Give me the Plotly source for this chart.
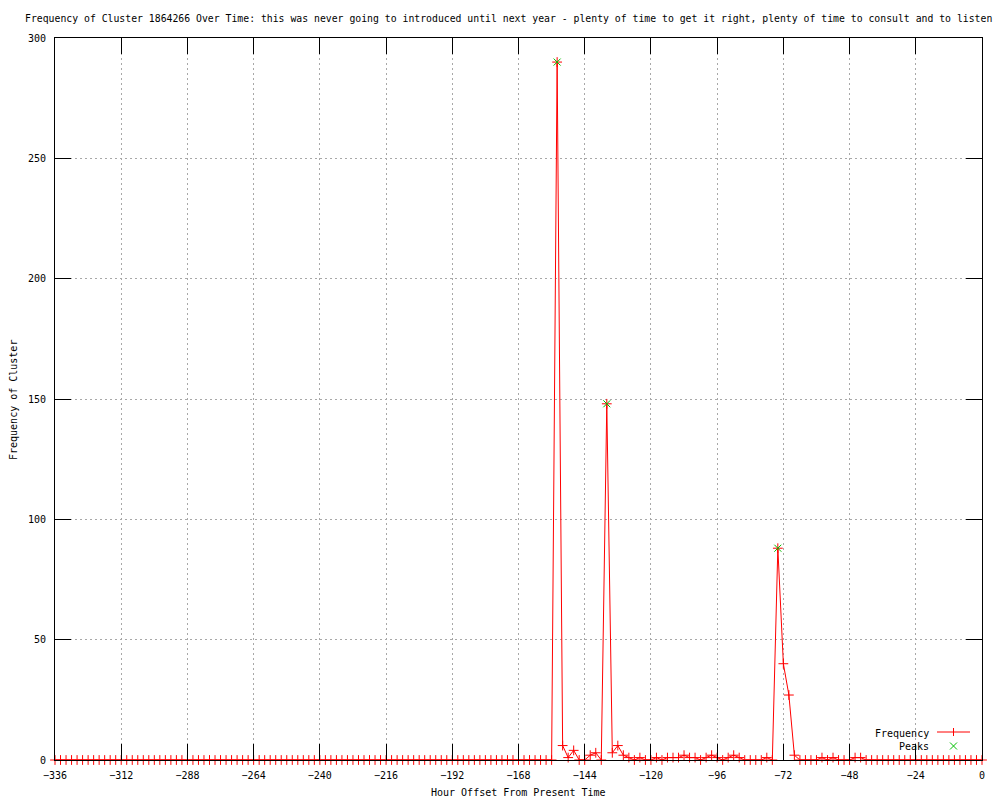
import plotly.graph_objects as go

# Hour offsets (every 2 hours from -336 to 0)
hours = list(range(-336, 1, 2))

# Frequency per 2-hour bin
frequency = [
    # -336 .. -158
    0, 0, 0, 0, 0, 0, 0, 0, 0, 0, 0, 0, 0, 0, 0, 0, 0, 0, 0, 0,
    0, 0, 0, 0, 0, 0, 0, 0, 0, 0, 0, 0, 0, 0, 0, 0, 0, 0, 0, 0,
    0, 0, 0, 0, 0, 0, 0, 0, 0, 0, 0, 0, 0, 0, 0, 0, 0, 0, 0, 0,
    0, 0, 0, 0, 0, 0, 0, 0, 0, 0, 0, 0, 0, 0, 0, 0, 0, 0, 0, 0,
    0, 0, 0, 0, 0, 0, 0, 0, 0, 0,
    # -156 .. -120
    0, 290, 6, 1, 4, 0, 0, 2, 3, 0, 148, 3, 6, 2, 1, 0, 1, 0, 0,
    # -118 .. -80
    1, 0, 1, 1, 1, 2, 1, 1, 0, 1, 2, 1, 0, 1, 2, 1, 0, 0, 0, 0,
    # -78 .. -40
    1, 0, 88, 40, 27, 2, 0, 0, 0, 0, 1, 0, 1, 0, 0, 0, 1, 1, 0, 0,
    # -38 .. 0
    0, 0, 0, 0, 0, 0, 0, 0, 0, 0, 0, 0, 0, 0, 0, 0, 0, 0, 0, 0,
]

peak_hours = [-154, -136, -74]
peak_values = [290, 148, 88]

x_ticks = [-336, -312, -288, -264, -240, -216, -192, -168, -144, -120, -96, -72, -48, -24, 0]
y_ticks = [0, 50, 100, 150, 200, 250, 300]

title_text = ("Frequency of Cluster 1864266 Over Time: this was never going to introduced until next year"
              " - plenty of time to get it right, plenty of time to consult and to listen")

RED = "#ff0000"
GREEN = "#00c000"
FONT = "DejaVu Sans Mono"

fig = go.Figure()
fig.add_trace(go.Scatter(
    x=hours, y=frequency, mode="lines+markers", name="Frequency",
    line=dict(color=RED, width=1),
    marker=dict(symbol="cross-thin", size=7, color=RED, line=dict(color=RED, width=1)),
    cliponaxis=False, showlegend=False,
))
fig.add_trace(go.Scatter(
    x=peak_hours, y=peak_values, mode="markers", name="Peaks",
    marker=dict(symbol="x-thin", size=7, color=GREEN, line=dict(color=GREEN, width=1)),
    cliponaxis=False, showlegend=False,
))

# plot area in pixels: x 55..982, y 38..760
L, R, T, B = 55, 982, 38, 760
W, H = R - L, B - T

def px(xp):
    return (xp - L) / W

def py(yp):
    return (B - yp) / H

axis_common = dict(
    showline=True, linecolor="black", linewidth=1, mirror="ticks",
    ticks="inside", ticklen=16, tickcolor="black", tickwidth=1,
    showgrid=True, gridcolor="#a8a8a8", griddash="2px,3px", gridwidth=1,
    zeroline=False, layer="above traces",
    tickfont=dict(family=FONT, size=10, color="black"),
)

fig.update_layout(
    width=1000, height=800, autosize=False,
    margin=dict(l=L, r=1000 - R, t=T, b=800 - B, pad=0),
    paper_bgcolor="white", plot_bgcolor="white",
    font=dict(family=FONT, size=10, color="black"),
    title=dict(text=title_text, xref="container", yref="container",
               x=0.025, xanchor="left", y=1 - 19 / 800, yanchor="middle",
               font=dict(family=FONT, size=9.8, color="black")),
    xaxis=dict(range=[-336, 0], tickvals=x_ticks, ticklabelstandoff=6, **axis_common),
    yaxis=dict(range=[0, 300], tickvals=y_ticks, ticklabelstandoff=6, **axis_common),
    showlegend=False,
)

# axis titles
fig.add_annotation(text="Hour Offset From Present Time", xref="paper", yref="paper",
                   x=px(518), y=py(793), showarrow=False, xanchor="center", yanchor="middle",
                   font=dict(family=FONT, size=10, color="black"))
fig.add_annotation(text="Frequency of Cluster", xref="paper", yref="paper",
                   x=px(13), y=py(400), showarrow=False, textangle=-90,
                   xanchor="center", yanchor="middle",
                   font=dict(family=FONT, size=10, color="black"))

# manual key (bottom right, gnuplot style)
fig.add_annotation(text="Frequency", xref="paper", yref="paper", x=px(931), y=py(733),
                   showarrow=False, xanchor="right", yanchor="middle",
                   font=dict(family=FONT, size=10, color="black"))
fig.add_annotation(text="Peaks", xref="paper", yref="paper", x=px(931), y=py(746),
                   showarrow=False, xanchor="right", yanchor="middle",
                   font=dict(family=FONT, size=10, color="black"))
fig.add_shape(type="line", xref="paper", yref="paper", x0=px(937), x1=px(970),
              y0=py(732), y1=py(732), line=dict(color=RED, width=1))
fig.add_shape(type="line", xref="paper", yref="paper", x0=px(953.5), x1=px(953.5),
              y0=py(728), y1=py(736), line=dict(color=RED, width=1))
fig.add_shape(type="line", xref="paper", yref="paper", x0=px(950), x1=px(957),
              y0=py(742.5), y1=py(749.5), line=dict(color=GREEN, width=1))
fig.add_shape(type="line", xref="paper", yref="paper", x0=px(950), x1=px(957),
              y0=py(749.5), y1=py(742.5), line=dict(color=GREEN, width=1))

fig.write_html("out.html", config={"displayModeBar": False},
               post_script="document.body.style.margin='0';document.body.style.overflow='hidden';")
